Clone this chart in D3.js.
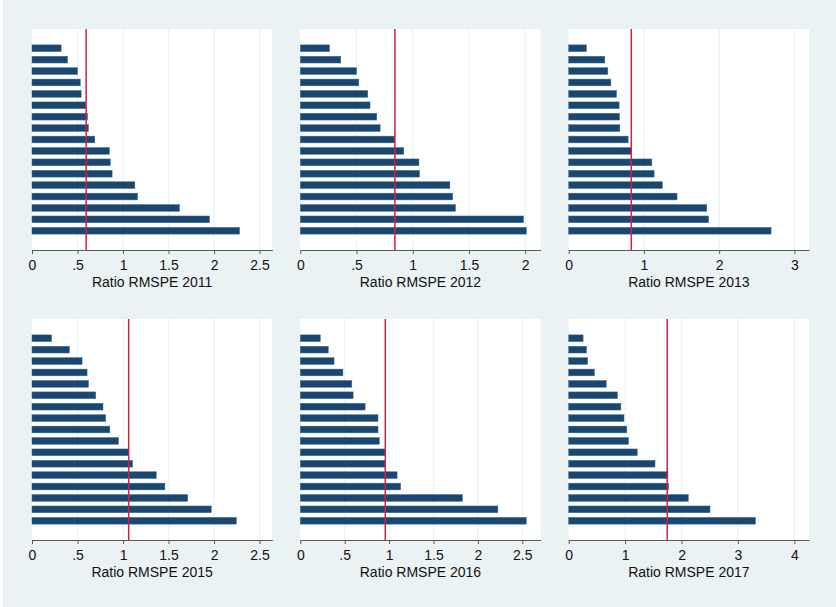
<!DOCTYPE html>
<html>
<head>
<meta charset="utf-8">
<script src="https://cdn.jsdelivr.net/npm/d3@7"></script>
<style>
  html, body { margin: 0; padding: 0; background: #ffffff; }
  svg { display: block; }
  text { font-family: "Liberation Sans", Arial, sans-serif; }
</style>
</head>
<body>
<svg id="chart" width="836" height="607"></svg>
<script>
// ---- data ----
const panelTitles = ["Ratio RMSPE 2011", "Ratio RMSPE 2012", "Ratio RMSPE 2013",
                     "Ratio RMSPE 2015", "Ratio RMSPE 2016", "Ratio RMSPE 2017"];

const ratio2011 = [0.32, 0.39, 0.50, 0.53, 0.54, 0.59, 0.61, 0.62, 0.69, 0.85, 0.86, 0.88, 1.13, 1.16, 1.62, 1.95, 2.28];
const ratio2012 = [0.26, 0.36, 0.50, 0.52, 0.60, 0.62, 0.68, 0.71, 0.84, 0.92, 1.055, 1.06, 1.33, 1.355, 1.38, 1.985, 2.01];
const ratio2013 = [0.235, 0.48, 0.52, 0.56, 0.635, 0.67, 0.675, 0.68, 0.79, 0.83, 1.105, 1.135, 1.245, 1.44, 1.835, 1.86, 2.69];
const ratio2015 = [0.215, 0.41, 0.55, 0.605, 0.62, 0.70, 0.78, 0.81, 0.855, 0.95, 1.06, 1.105, 1.365, 1.46, 1.71, 1.97, 2.245];
const ratio2016 = [0.225, 0.315, 0.38, 0.48, 0.58, 0.595, 0.73, 0.875, 0.875, 0.89, 0.955, 0.96, 1.09, 1.13, 1.825, 2.225, 2.545];
const ratio2017 = [0.255, 0.315, 0.335, 0.455, 0.665, 0.865, 0.925, 0.98, 1.03, 1.06, 1.215, 1.53, 1.76, 1.77, 2.12, 2.505, 3.31];

const treatedRatio = [0.595, 0.841, 0.832, 1.062, 0.957, 1.746];

const axisMax = [2.64, 2.137, 3.194, 2.64, 2.706, 4.26];

const ticksHalf = [0, 0.5, 1, 1.5, 2, 2.5];
const ticksHalfLabels = ["0", ".5", "1", "1.5", "2", "2.5"];
const ticksHalf2 = [0, 0.5, 1, 1.5, 2];
const ticksHalf2Labels = ["0", ".5", "1", "1.5", "2"];
const ticksUnit3 = [0, 1, 2, 3];
const ticksUnit3Labels = ["0", "1", "2", "3"];
const ticksUnit4 = [0, 1, 2, 3, 4];
const ticksUnit4Labels = ["0", "1", "2", "3", "4"];

const panelValues = [ratio2011, ratio2012, ratio2013, ratio2015, ratio2016, ratio2017];
const panelTicks = [ticksHalf, ticksHalf2, ticksUnit3, ticksHalf, ticksHalf, ticksUnit4];
const panelTickLabels = [ticksHalfLabels, ticksHalf2Labels, ticksUnit3Labels, ticksHalfLabels, ticksHalfLabels, ticksUnit4Labels];

// ---- layout ----
const W = 836, H = 607;
const colLeft = [32, 300.3, 568.7];
const plotW = 240.3;
const rowTop = [29, 319];
const plotH = 221;

const bg = "#EAF2F3";
const barColor = "#1A476F";
const lineColor = "#D41F3F";

const svg = d3.select("#chart");
svg.append("rect").attr("x", 0).attr("y", 0).attr("width", W).attr("height", H).attr("fill", "#ffffff");
svg.append("rect").attr("x", 3).attr("y", 0).attr("width", W - 3).attr("height", H).attr("fill", bg);

panelValues.forEach((vals, i) => {
  const col = i % 3, row = Math.floor(i / 3);
  const x0 = colLeft[col], y0 = rowTop[row];
  const g = svg.append("g").attr("transform", `translate(${x0},${y0})`);

  const x = d3.scaleLinear().domain([0, axisMax[i]]).range([0, plotW]);
  const y = d3.scaleBand().domain(d3.range(vals.length)).range([13.6, plotH - 13.6]).paddingInner(0.41).paddingOuter(0.2);

  // plot region
  g.append("rect").attr("x", 0).attr("y", 0).attr("width", plotW).attr("height", plotH).attr("fill", "#ffffff");

  // gridlines
  g.selectAll(".grid").data(panelTicks[i].filter(t => t > 0)).enter().append("line")
    .attr("x1", d => x(d)).attr("x2", d => x(d))
    .attr("y1", 0).attr("y2", plotH)
    .attr("stroke", bg).attr("stroke-width", 1.2);

  // bars
  g.selectAll(".bar").data(vals).enter().append("rect")
    .attr("x", x(0))
    .attr("y", (d, k) => y(k))
    .attr("width", d => x(d) - x(0))
    .attr("height", y.bandwidth())
    .attr("fill", barColor)
    .attr("stroke", "#3d6a90").attr("stroke-width", 0.5);

  // treated reference line
  g.append("line")
    .attr("x1", x(treatedRatio[i])).attr("x2", x(treatedRatio[i]))
    .attr("y1", 0).attr("y2", plotH)
    .attr("stroke", lineColor).attr("stroke-width", 1.5);

  // x axis
  const axis = d3.axisBottom(x)
    .tickValues(panelTicks[i])
    .tickFormat((d, k) => panelTickLabels[i][k])
    .tickSize(4).tickSizeOuter(0).tickPadding(6);
  const ag = g.append("g").attr("transform", `translate(0,${plotH})`).call(axis);
  ag.select(".domain").attr("stroke", "#5a5a5a").attr("stroke-width", 1);
  ag.selectAll(".tick line").attr("stroke", "#5a5a5a");
  ag.selectAll(".tick text").attr("font-size", 14).attr("fill", "#111")
    .attr("font-family", "'Liberation Sans', Arial, sans-serif");

  // axis title
  g.append("text")
    .attr("x", plotW / 2).attr("y", plotH + 37)
    .attr("text-anchor", "middle")
    .attr("font-size", 14).attr("fill", "#111")
    .text(panelTitles[i]);
});
</script>
</body>
</html>
